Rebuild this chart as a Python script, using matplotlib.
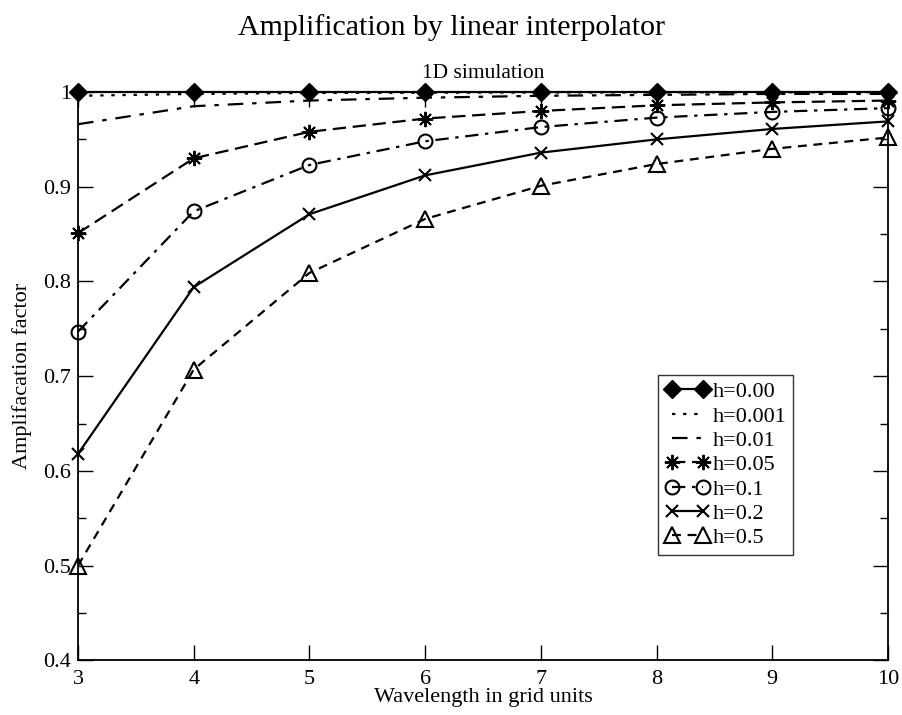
import numpy as np
import matplotlib
matplotlib.use("Agg")
import matplotlib.pyplot as plt
from matplotlib.ticker import MultipleLocator, FormatStrFormatter

plt.rcParams['font.family'] = ['Liberation Serif', 'DejaVu Serif']

wavelength = [3, 4, 5, 6, 7, 8, 9, 10]
amp_h000 = [1.0, 1.0, 1.0, 1.0, 1.0, 1.0, 1.0, 1.0]
amp_h0001 = [0.996, 0.998, 0.999, 0.9993, 0.9995, 0.9996, 0.9997, 0.9998]
amp_h001 = [0.966, 0.985, 0.991, 0.994, 0.996, 0.997, 0.998, 0.998]
amp_h005 = [0.851, 0.930, 0.958, 0.972, 0.980, 0.986, 0.989, 0.991]
amp_h01 = [0.747, 0.874, 0.923, 0.948, 0.963, 0.973, 0.979, 0.983]
amp_h02 = [0.618, 0.794, 0.871, 0.912, 0.936, 0.950, 0.961, 0.969]
amp_h05 = [0.500, 0.707, 0.809, 0.866, 0.901, 0.924, 0.940, 0.952]

fig = plt.figure(figsize=(9.03, 7.15), dpi=100)
ax = fig.add_axes([0.0864, 0.0765, 0.897, 0.7948])

lw = 1.6
kw = dict(color='black', lw=lw, clip_on=False)
ax.plot(wavelength, amp_h000, '-', marker='D', ms=9.5, mfc='black', mec='black',
        label='h=0.00', **kw)
ax.plot(wavelength, amp_h0001, dashes=(1.5, 3.5), label='h=0.001', **kw)
ax.plot(wavelength, amp_h001, dashes=(7, 4, 2, 4), label='h=0.01', **kw)
ax.plot(wavelength, amp_h005, dashes=(6, 3), marker=(8, 2, 0), ms=11, mew=1.4,
        label='h=0.05', **kw)
ax.plot(wavelength, amp_h01, dashes=(6, 3, 1.5, 3), marker='o', ms=10, mfc='none',
        mew=1.5, label='h=0.1', **kw)
ax.plot(wavelength, amp_h02, '-', marker='x', ms=9, mew=1.5, label='h=0.2', **kw)
ax.plot(wavelength, amp_h05, dashes=(4, 3), marker='^', ms=12, mfc='none', mew=1.5,
        label='h=0.5', **kw)

ax.set_xlim(3, 10)
ax.set_ylim(0.4, 1.0)
ax.xaxis.set_major_locator(MultipleLocator(1))
ax.yaxis.set_major_locator(MultipleLocator(0.1))
ax.yaxis.set_minor_locator(MultipleLocator(0.05))
ax.yaxis.set_major_formatter(FormatStrFormatter('%g'))
ax.tick_params(which='both', direction='in', top=True, right=True, labelsize=16)
ax.tick_params(which='major', length=11, width=1)
ax.tick_params(which='minor', length=6, width=1)
ax.tick_params(axis='x', pad=7)
ax.tick_params(axis='y', pad=5)
for s in ax.spines.values():
    s.set_linewidth(1.3)

ax.set_xlabel("Wavelength in grid units", fontsize=16, labelpad=-1)
ax.set_ylabel("Amplifacation factor", fontsize=16, labelpad=8)
ax.set_title("1D simulation", fontsize=15.5, pad=10)
fig.text(0.5, 0.951, "Amplification by linear interpolator", fontsize=21.5,
         ha='center', va='baseline')

leg = ax.legend(loc='upper right', bbox_to_anchor=(0.883, 0.502), numpoints=2,
                handlelength=2.0, handletextpad=0.15, fontsize=16, frameon=True,
                fancybox=False, edgecolor='black', borderpad=0.3, labelspacing=0.17,
                borderaxespad=0)
leg.get_frame().set_linewidth(1.0)

fig.savefig("out.png", dpi=100)
